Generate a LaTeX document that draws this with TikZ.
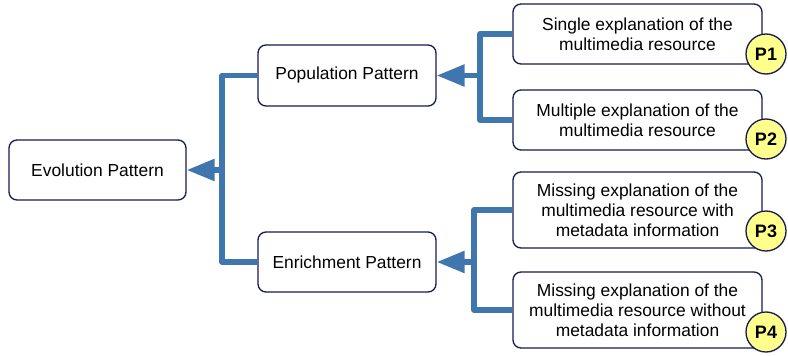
\documentclass[tikz,border=0pt]{standalone}
\usepackage{fontspec}
\setmainfont{Liberation Sans}
\usetikzlibrary{arrows.meta}
\definecolor{conn}{RGB}{64,118,174}
\definecolor{navy}{RGB}{22,26,84}
\definecolor{pyellow}{RGB}{255,255,140}
\begin{document}
\begin{tikzpicture}[x=1pt,y=-1pt,
  box/.style={draw=navy,line width=1.3pt,rounded corners=8pt,fill=white,
    inner sep=0pt,align=center,font=\fontsize{17.4}{20}\selectfont},
  tag/.style={circle,draw=navy,line width=1.3pt,fill=pyellow,minimum size=40pt,
    inner sep=0pt,font=\fontsize{18}{20}\selectfont\bfseries},
  link/.style={draw=conn,line width=5.5pt,line join=round},
  head/.style={-{Triangle[length=28pt,width=21pt]}}]
\useasboundingbox (0,0) rectangle (788,356);
% boxes
\node[box,minimum width=177pt,minimum height=60pt] (evo) at (97.5,170) {Evolution Pattern};
\node[box,minimum width=178pt,minimum height=61pt] (pop) at (347,75.5) {Population Pattern};
\node[box,minimum width=178pt,minimum height=60pt] (enr) at (347,262) {Enrichment Pattern};
\node[box,minimum width=249pt,minimum height=60pt] (b1) at (637.5,34) {Single explanation of the\\multimedia resource};
\node[box,minimum width=249pt,minimum height=60pt] (b2) at (637.5,120) {Multiple explanation of the\\multimedia resource};
\node[box,minimum width=249pt,minimum height=76pt] (b3) at (637.5,210) {Missing explanation of the\\multimedia resource with\\metadata information};
\node[box,minimum width=249pt,minimum height=76pt] (b4) at (637.5,310) {Missing explanation of the\\multimedia resource without\\metadata information};
% tags
\node[tag] (p1) at (766,54) {P1};
\node[tag] (p2) at (766,139) {P2};
\node[tag] (p3) at (766,231) {P3};
\node[tag] (p4) at (766,332) {P4};
% junctions
\coordinate (j1) at (222,170);
\coordinate (j2) at (480,75.5);
\coordinate (j3) at (474,262);
% connectors
\draw[link] (pop.west) -| (j1) |- (enr.west);
\draw[link,head] (j1) -- (evo.east);
\draw[link] (b1.west) -| (j2) |- (b2.west);
\draw[link,head] (j2) -- (pop.east);
\draw[link] (b3.west) -| (j3) |- (b4.west);
\draw[link,head] (j3) -- (enr.east);
\end{tikzpicture}
\end{document}
